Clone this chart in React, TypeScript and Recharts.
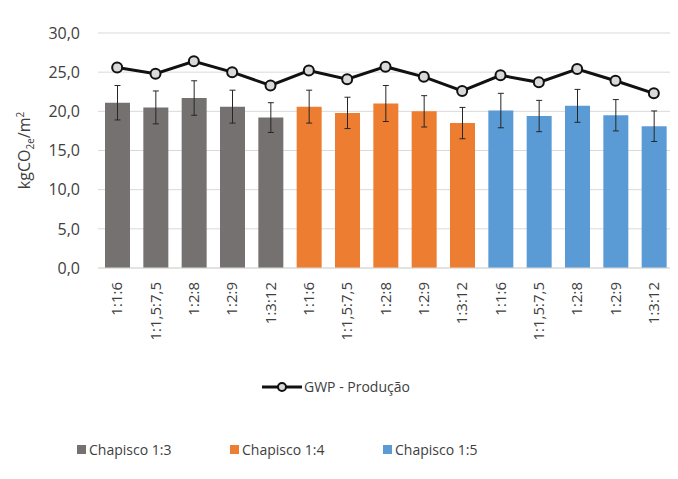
import { Bar, CartesianGrid, Cell, ComposedChart, ErrorBar, Line, XAxis, YAxis } from 'recharts';

const traces = ['1:1:6', '1:1,5:7,5', '1:2:8', '1:2:9', '1:3:12'];
const groups = ['Chapisco 1:3', 'Chapisco 1:4', 'Chapisco 1:5'];
const groupColors = ['#767171', '#ED7D31', '#5B9BD5'];

const chapisco13 = [21.1, 20.5, 21.7, 20.6, 19.2];
const chapisco14 = [20.6, 19.8, 21.0, 20.0, 18.5];
const chapisco15 = [20.1, 19.4, 20.7, 19.5, 18.1];
const desvio13 = [2.2, 2.1, 2.2, 2.1, 1.9];
const desvio14 = [2.1, 2.0, 2.3, 2.0, 2.0];
const desvio15 = [2.2, 2.0, 2.1, 2.0, 1.95];
const gwpProducao = [25.6, 24.8, 26.4, 25.0, 23.3, 25.2, 24.1, 25.7, 24.4, 22.6, 24.6, 23.7, 25.4, 23.9, 22.3];
const yTicks = [0, 5, 10, 15, 20, 25, 30];

const barValues = [chapisco13, chapisco14, chapisco15];
const barErrors = [desvio13, desvio14, desvio15];

const data = groups.flatMap((_, g) =>
  traces.map((trace, i) => ({
    id: `${g}-${i}`,
    label: trace,
    group: g,
    valor: barValues[g][i],
    desvio: barErrors[g][i],
    gwp: gwpProducao[g * traces.length + i]
  }))
);

const font = '"Open Sans", sans-serif';
const textColor = '#404040';

const fmt = (v: number) => v.toFixed(1).replace('.', ',');

function XTick({ x, y, payload }: any) {
  const row = data[payload.index];
  return (
    <g transform={`translate(${x},${y})`}>
      <text
        transform="rotate(-90)"
        textAnchor="end"
        dy="0.35em"
        fontSize={15}
        fontFamily={font}
        fill={textColor}
      >
        {row ? row.label : ''}
      </text>
    </g>
  );
}

function YLabel({ viewBox }: any) {
  const cy = viewBox.y + viewBox.height / 2;
  const x = 22;
  return (
    <text
      x={x}
      y={cy}
      transform={`rotate(-90, ${x}, ${cy})`}
      textAnchor="middle"
      fontSize={16}
      fontFamily={font}
      fill={textColor}
    >
      kgCO
      <tspan fontSize={10} dy={4}>2e</tspan>
      <tspan dy={-4}>/m</tspan>
      <tspan fontSize={10} dy={-6}>2</tspan>
    </text>
  );
}

export default function App() {
  return (
    <div style={{ position: 'relative', width: 670, height: 471, fontFamily: font, color: textColor }}>
      <ComposedChart width={670} height={471} data={data} margin={{ top: 25, right: 5, left: 0, bottom: 111 }}>
        <CartesianGrid vertical={false} stroke="#d9d9d9" />
        <XAxis
          dataKey="id"
          interval={0}
          height={100}
          tick={<XTick />}
          tickLine={false}
          tickSize={6}
          tickMargin={8}
          axisLine={{ stroke: '#d9d9d9' }}
        />
        <YAxis
          width={90}
          domain={[0, 30]}
          ticks={yTicks}
          tickFormatter={fmt}
          axisLine={false}
          tickLine={false}
          tickSize={6}
          tickMargin={12}
          tick={{ fontSize: 16, fontFamily: font, fill: textColor }}
          label={<YLabel />}
        />
        <Bar dataKey="valor" barSize={25} isAnimationActive={false}>
          {data.map((d) => (
            <Cell key={d.id} fill={groupColors[d.group]} />
          ))}
          <ErrorBar dataKey="desvio" width={3} stroke="#262626" strokeWidth={1} />
        </Bar>
        <Line
          dataKey="gwp"
          stroke="#111"
          strokeWidth={3}
          dot={{ r: 5, fill: '#d9d9d9', stroke: '#111', strokeWidth: 2 }}
          isAnimationActive={false}
        />
      </ComposedChart>

      <div style={{ position: 'absolute', left: 254, top: 369, display: 'flex', alignItems: 'center', fontSize: 14 }}>
        <svg width={40} height={12}>
          <line x1={0} y1={6} x2={40} y2={6} stroke="#111" strokeWidth={3} />
          <circle cx={20} cy={6} r={4} fill="#d9d9d9" stroke="#111" strokeWidth={2} />
        </svg>
        <span style={{ marginLeft: 2 }}>GWP - Produção</span>
      </div>

      {groups.map((name, g) => (
        <div
          key={name}
          style={{ position: 'absolute', left: 69 + g * 153, top: 432, display: 'flex', alignItems: 'center', fontSize: 14 }}
        >
          <span style={{ width: 9, height: 9, background: groupColors[g], display: 'inline-block' }} />
          <span style={{ marginLeft: 3 }}>{name}</span>
        </div>
      ))}
    </div>
  );
}
